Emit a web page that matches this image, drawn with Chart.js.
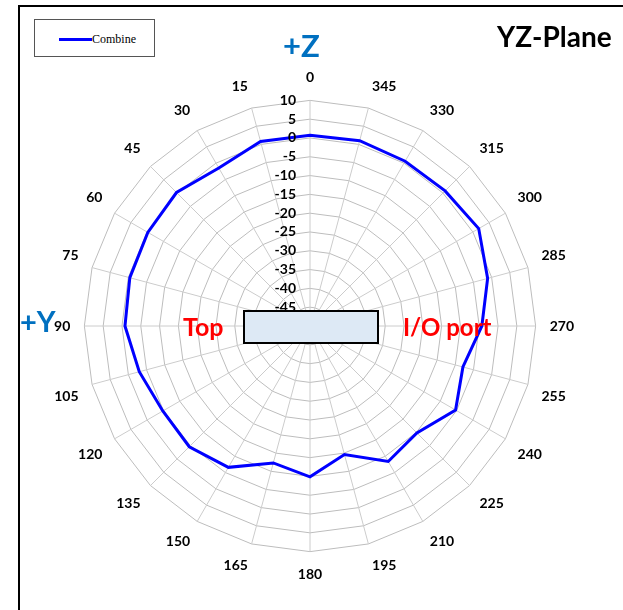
<!DOCTYPE html>
<html>
<head>
<meta charset="utf-8">
<script src="https://cdn.jsdelivr.net/npm/chart.js@4.4.1/dist/chart.umd.min.js"></script>
<style>
  body { margin: 0; background: #fff; overflow: hidden; }
  #wrap { position: relative; width: 623px; height: 610px; overflow: hidden; }
  #frame { position: absolute; left: 18px; top: 5px; width: 700px; height: 700px; border: 2px solid #000; }
  canvas { position: absolute; left: 0; top: 0; }
  .lbl { position: absolute; font-family: Lato, sans-serif; font-weight: bold; line-height: 1; white-space: nowrap; }
  #legend { position: absolute; left: 34px; top: 19px; width: 119px; height: 36px; border: 1px solid #555; background: #fff; }
  #legend .line { position: absolute; left: 24px; top: 18px; width: 33px; height: 3px; background: #0000ff; }
  #legend .txt { position: absolute; left: 57px; top: 12px; font-family: "Liberation Serif", serif; font-size: 12px; color: #000; }
  #board { position: absolute; left: 243px; top: 310px; width: 136px; height: 34px; box-sizing: border-box; border: 2px solid #000; background: #dde9f5; }
</style>
</head>
<body>
<div id="wrap">
  <div id="frame"></div>
  <canvas id="polar" width="623" height="610"></canvas>
  <div id="legend"><div class="line"></div><div class="txt">Combine</div></div>
  <div id="board"></div>
  <div class="lbl" style="left:497px; top:22px; font-size:28px; color:#000;">YZ-Plane</div>
  <div class="lbl" style="left:283px; top:30px; font-size:31px; color:#0070c0;">+Z</div>
  <div class="lbl" style="left:20px; top:306px; font-size:29px; color:#0070c0;">+Y</div>
  <div class="lbl" style="left:183px; top:314px; font-size:25px; color:#ff0000;">Top</div>
  <div class="lbl" style="left:403px; top:315px; font-size:24px; color:#ff0000;">I/O port</div>
</div>

<script>
// --- DATA ---
// angle in degrees, counter-clockwise from +Z
const angles = [0, 15, 30, 45, 60, 75, 90, 105, 120, 135, 150, 165,
                180, 195, 210, 225, 240, 255, 270, 285, 300, 315, 330, 345];
// Combine gain (dB) at each angle
const combine = [0.7, 0.8, -1.5, 0.2, -0.2, -0.4, -0.8, -3.0, -4.8, -4.6, -6.6, -12.3,
                 -9.9, -14.6, -8.4, -9.8, -5.3, -7.9, -4.3, -1.1, 1.8, 0.8, 0.6, 1.0];
const tickMin = -50;
const tickMax = 10;
const tickStep = 5;

// Chart.js radar runs clockwise, the plot runs counter-clockwise -> reorder
const order = angles.map((a, i) => (angles.length - i) % angles.length);
const labels = order.map(i => String(angles[i]));
const values = order.map(i => combine[i]);

// tick labels drawn just left of the vertical axis
const tickLabelPlugin = {
    id: 'tickLabels',
    afterDatasetsDraw(chart) {
        const sc = chart.scales.r;
        const ctx = chart.ctx;
        ctx.save();
        ctx.font = 'bold 14px Lato';
        ctx.fillStyle = '#000';
        ctx.textAlign = 'right';
        ctx.textBaseline = 'middle';
        sc.ticks.forEach(t => {
            if (t.value === tickMin) return;
            const y = sc.yCenter - sc.getDistanceFromCenterForValue(t.value);
            ctx.fillText(String(t.value), sc.xCenter - 14, y);
        });
        ctx.restore();
    }
};

Chart.defaults.font.family = 'Lato';

new Chart(document.getElementById('polar'), {
    type: 'radar',
    data: {
        labels: labels,
        datasets: [{
            label: 'Combine',
            data: values,
            borderColor: '#0000ff',
            borderWidth: 3,
            pointRadius: 0,
            fill: false,
            tension: 0
        }]
    },
    options: {
        responsive: false,
        animation: false,
        devicePixelRatio: 1,
        layout: { padding: { top: 61, bottom: 18, left: 51, right: 44 } },
        plugins: { legend: { display: false }, tooltip: { enabled: false } },
        scales: {
            r: {
                min: tickMin,
                max: tickMax,
                ticks: { stepSize: tickStep, display: false },
                grid: { color: '#bdbdbd', lineWidth: 1, circular: false },
                angleLines: { color: '#cccccc', lineWidth: 1 },
                pointLabels: { font: { size: 14, weight: 'bold' }, color: '#000', padding: 14 }
            }
        }
    },
    plugins: [tickLabelPlugin]
});
</script>
</body>
</html>
